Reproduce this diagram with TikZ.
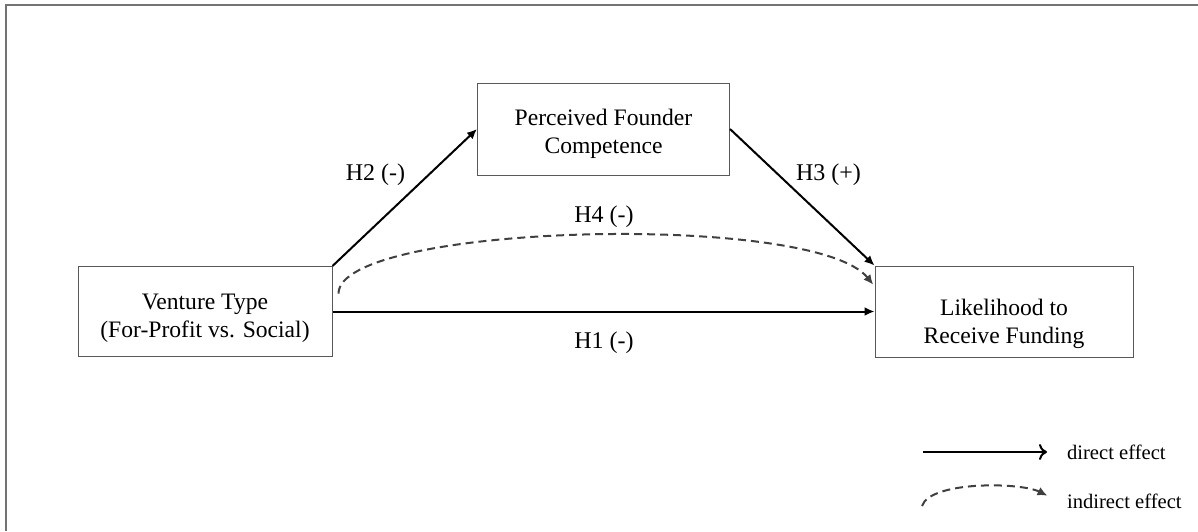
\documentclass[tikz,border=0pt]{standalone}
\usepackage{fontspec}
\setmainfont{Liberation Serif}
\usetikzlibrary{arrows.meta}
\tikzstyle{block} = [draw=black!65, line width=0.5pt, fill=white, rectangle]
\tikzstyle{boxtext} = [align=center, inner sep=0pt, font=\fontsize{11.8}{14}\selectfont]
\tikzstyle{hyp} = [font=\fontsize{12}{14}\selectfont]
\tikzstyle{effect} = [line width=1pt, -{Latex[length=5pt,width=4.5pt]}]
\tikzstyle{mediated} = [line width=1pt, black!75, dash pattern=on 4pt off 2.5pt, -{Latex[length=5pt,width=4.5pt]}]
\tikzstyle{legendtext} = [anchor=west, font=\fontsize{10.3}{12}\selectfont]

\begin{document}
\begin{tikzpicture}[x=0.5pt, y=-0.5pt]
        \useasboundingbox (0,0) rectangle (1198,531);
        \draw[black!55, line width=1pt] (6,531) -- (6,5) -- (1198,5);

        \node [block, minimum width=127pt, minimum height=45pt] (venture) at (205,311.5) {};
        \node [block, minimum width=126pt, minimum height=46pt] (founder) at (603.5,129) {};
        \node [block, minimum width=129pt, minimum height=45.5pt] (funding) at (1004,311.5) {};

        \node [boxtext] (venturetext) at ([yshift=-3.5pt]venture.center) {Venture Type\\(For-Profit vs. Social)};
        \node [boxtext] (foundertext) at ([yshift=-2.5pt]founder.center) {Perceived Founder\\Competence};
        \node [boxtext] (fundingtext) at ([yshift=-6pt]funding.center) {Likelihood to\\Receive Funding};

        \draw[effect] (venture.north east) -- (founder.west);
        \draw[effect] (founder.east) -- (funding.north west);
        \draw[effect] (venture.east) -- (funding.west);
        \draw[mediated, shorten >=1pt] ([xshift=3pt]venture.8) .. controls +(0,-70) and +(-60,-75) .. (funding.169);

        \node [hyp] (h2) at (375.5,175) {H2 (-)};
        \node [hyp] (h3) at (828.5,175) {H3 (+)};
        \node [hyp] (h4) at (604,217) {H4 (-)};
        \node [hyp] (h1) at (604,343) {H1 (-)};

        % legend
        \node [legendtext] (direct) at (1060,452) {direct effect};
        \node [legendtext] (indirect) at (1060,501) {indirect effect};
        \coordinate (dstart) at (923,452);
        \coordinate (istart) at (922,506);
        \draw[line width=1pt, -{To[length=4pt,width=8pt]}, shorten >=6.5pt] (dstart) -- (direct.west);
        \draw[mediated, shorten >=7pt] (istart) .. controls +(8,-25) and +(-40,-20) .. (indirect.west |- 0,502);
    \end{tikzpicture}
\end{document}
